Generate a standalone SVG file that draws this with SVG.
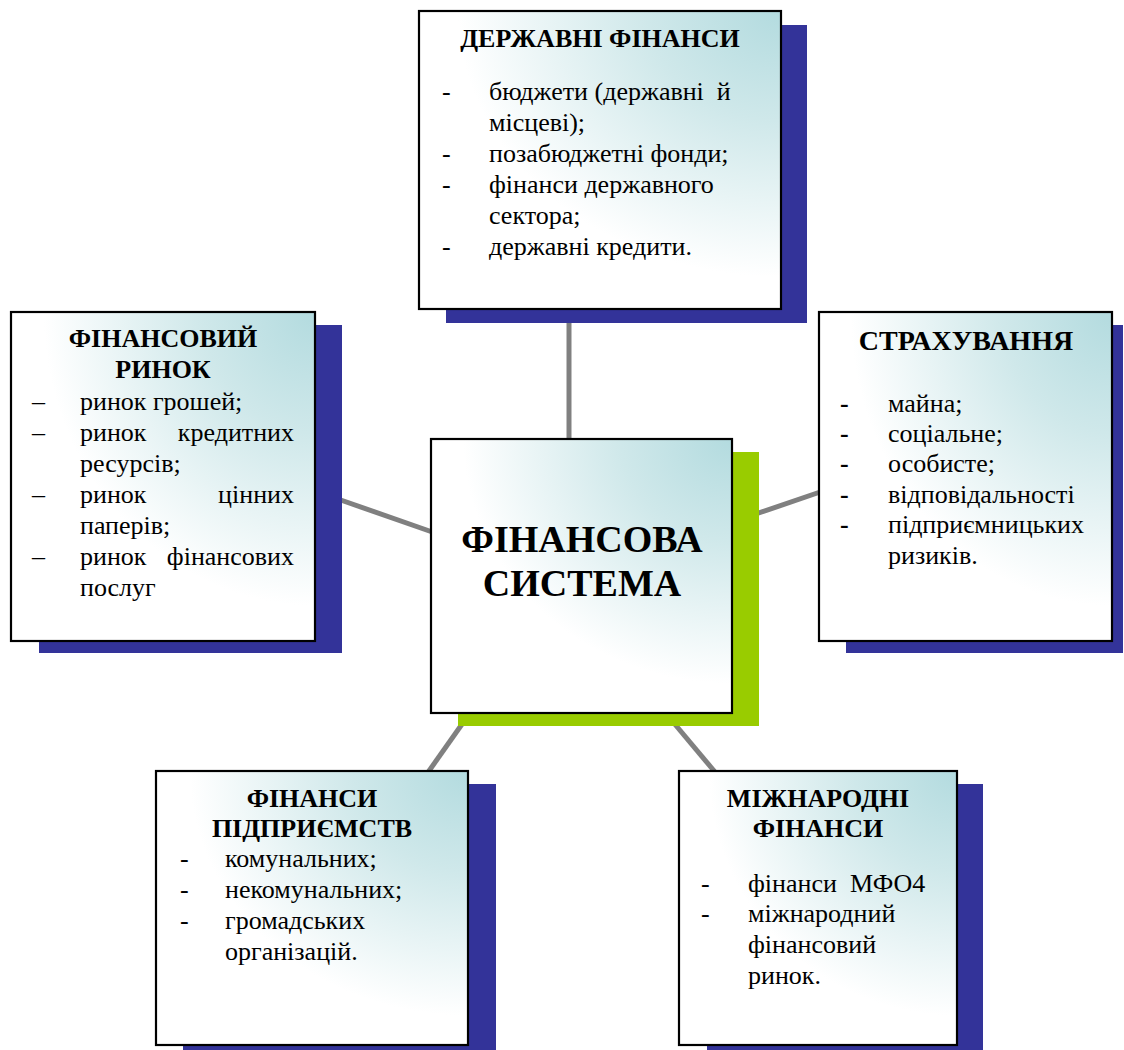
<svg xmlns="http://www.w3.org/2000/svg" width="1124" height="1050" viewBox="0 0 1124 1050" font-family="'Liberation Serif', 'Times New Roman', Times, Tinos, 'Noto Serif', 'DejaVu Serif', FreeSerif, serif">
<defs>
<radialGradient id="fill" cx="1" cy="0" r="1.05" gradientUnits="objectBoundingBox">
<stop offset="0" stop-color="#b3dbdf"/>
<stop offset="0.35" stop-color="#cfe8ea"/>
<stop offset="0.85" stop-color="#ffffff"/>
</radialGradient>
<style>
.box{fill:url(#fill);stroke:#000;stroke-width:2.2}
.sh{fill:#333399}
.shg{fill:#99cc00}
.con{stroke:#808080;stroke-width:5;fill:none}
.t{font-size:26px;font-weight:bold;text-anchor:middle}
.b{font-size:26px}
.big{font-size:38px;font-weight:bold;text-anchor:middle}
.pre{white-space:pre}
</style>
</defs>
<rect width="1124" height="1050" fill="#fff"/>
<g id="connectors">
<line class="con" x1="569" y1="318" x2="569" y2="445"/>
<line class="con" x1="335" y1="498" x2="438" y2="534"/>
<line class="con" x1="750" y1="516" x2="826" y2="490"/>
<line class="con" x1="472" y1="710" x2="424" y2="778"/>
<line class="con" x1="668" y1="716" x2="720" y2="778"/>
</g>
<g id="node-center">
<rect class="shg" x="458" y="452" width="301" height="274"/>
<rect class="box" x="431" y="439" width="301" height="274"/>
<text class="big" x="582" y="552">ФІНАНСОВА</text>
<text class="big" x="582" y="596">СИСТЕМА</text>
</g>
<g id="node-state">
<rect class="sh" x="446" y="25" width="361" height="298"/>
<rect class="box" x="419" y="11" width="362" height="298"/>
<text class="t" x="600" y="47">ДЕРЖАВНІ ФІНАНСИ</text>
<text class="b" x="442" y="100">-</text>
<text class="b pre" x="489" y="100">бюджети (державні  й</text>
<text class="b" x="489" y="131">місцеві);</text>
<text class="b" x="442" y="162">-</text>
<text class="b" x="489" y="162">позабюджетні фонди;</text>
<text class="b" x="442" y="193">-</text>
<text class="b" x="489" y="193">фінанси державного</text>
<text class="b" x="489" y="224">сектора;</text>
<text class="b" x="442" y="255">-</text>
<text class="b" x="489" y="255">державні кредити.</text>
</g>
<g id="node-market">
<rect class="sh" x="39" y="325" width="303" height="328"/>
<rect class="box" x="11" y="312" width="304" height="329"/>
<text class="t" x="163" y="347">ФІНАНСОВИЙ</text>
<text class="t" x="163" y="378">РИНОК</text>
<text class="b" x="32" y="410">–</text>
<text class="b" x="80" y="410">ринок грошей;</text>
<text class="b" x="32" y="441">–</text>
<text class="b" x="80" y="441">ринок</text>
<text class="b" x="294" y="441" text-anchor="end">кредитних</text>
<text class="b" x="80" y="472">ресурсів;</text>
<text class="b" x="32" y="503">–</text>
<text class="b" x="80" y="503">ринок</text>
<text class="b" x="294" y="503" text-anchor="end">цінних</text>
<text class="b" x="80" y="534">паперів;</text>
<text class="b" x="32" y="565">–</text>
<text class="b" x="80" y="565">ринок</text>
<text class="b" x="294" y="565" text-anchor="end">фінансових</text>
<text class="b" x="80" y="596">послуг</text>
</g>
<g id="node-insurance">
<rect class="sh" x="846" y="325" width="277" height="328"/>
<rect class="box" x="819" y="312" width="293" height="329"/>
<text class="t" x="966" y="350" style="font-size:28px">СТРАХУВАННЯ</text>
<text class="b" x="840" y="412" font-weight="bold">-</text>
<text class="b" x="888" y="412">майна;</text>
<text class="b" x="840" y="442" font-weight="bold">-</text>
<text class="b" x="888" y="442">соціальне;</text>
<text class="b" x="840" y="472" font-weight="bold">-</text>
<text class="b" x="888" y="472">особисте;</text>
<text class="b" x="840" y="503" font-weight="bold">-</text>
<text class="b" x="888" y="503">відповідальності</text>
<text class="b" x="840" y="533" font-weight="bold">-</text>
<text class="b" x="888" y="533">підприємницьких</text>
<text class="b" x="888" y="564">ризиків.</text>
</g>
<g id="node-enterprise">
<rect class="sh" x="183" y="784" width="313" height="274"/>
<rect class="box" x="156" y="771" width="312" height="274"/>
<text class="t" x="312" y="807">ФІНАНСИ</text>
<text class="t" x="312" y="837">ПІДПРИЄМСТВ</text>
<text class="b" x="180" y="867">-</text>
<text class="b" x="225" y="867">комунальних;</text>
<text class="b" x="180" y="898">-</text>
<text class="b" x="225" y="898">некомунальних;</text>
<text class="b" x="180" y="929">-</text>
<text class="b" x="225" y="929">громадських</text>
<text class="b" x="225" y="960">організацій.</text>
</g>
<g id="node-international">
<rect class="sh" x="707" y="784" width="276" height="274"/>
<rect class="box" x="679" y="771" width="278" height="274"/>
<text class="t" x="818" y="807">МІЖНАРОДНІ</text>
<text class="t" x="818" y="837">ФІНАНСИ</text>
<text class="b" x="701" y="892">-</text>
<text class="b pre" x="748" y="892">фінанси  МФО4</text>
<text class="b" x="701" y="922">-</text>
<text class="b" x="748" y="922">міжнародний</text>
<text class="b" x="748" y="953">фінансовий</text>
<text class="b" x="748" y="984">ринок.</text>
</g>
</svg>
